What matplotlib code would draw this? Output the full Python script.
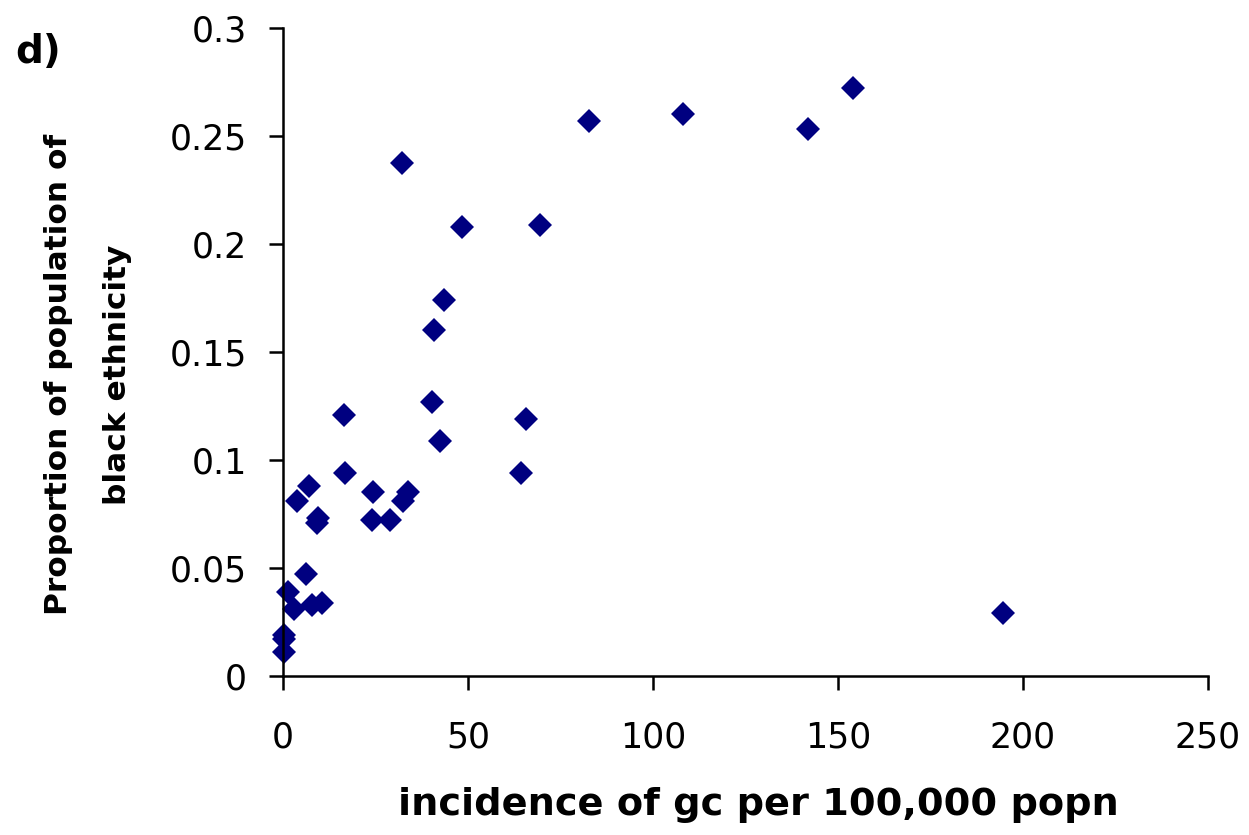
import matplotlib
matplotlib.use("Agg")
import matplotlib.pyplot as plt

# incidence of gc per 100,000 population vs proportion of black ethnicity
incidence = [0.3, 0.3, 0.2, 1.4, 6.2, 3.0, 7.8, 10.5, 3.8, 7.0, 9.2, 9.5,
             16.8, 24.3, 24.0, 16.5, 28.9, 32.4, 33.8, 32.2, 40.3, 40.8,
             42.4, 43.5, 48.4, 64.3, 65.7, 69.5, 82.7, 108.1, 141.9, 154.0,
             194.6]
prop_black = [0.019, 0.011, 0.017, 0.039, 0.047, 0.031, 0.033, 0.034, 0.081,
              0.088, 0.071, 0.073, 0.094, 0.085, 0.072, 0.121, 0.072, 0.081,
              0.085, 0.2375, 0.127, 0.160, 0.109, 0.174, 0.208, 0.094, 0.119,
              0.209, 0.257, 0.260, 0.253, 0.272, 0.029]

xticks = [0, 50, 100, 150, 200, 250]
yticks = [0, 0.05, 0.1, 0.15, 0.2, 0.25, 0.3]
ytick_labels = ["0", "0.05", "0.1", "0.15", "0.2", "0.25", "0.3"]

plt.rcParams['font.family'] = ['DejaVu Sans']

fig = plt.figure(figsize=(12.49, 8.35), dpi=100)
ax = fig.add_axes([0.2266, 0.1904, 0.967 - 0.2266, 0.9665 - 0.1904])

ax.plot(incidence, prop_black, linestyle='none', marker='D', markersize=12,
        color='#000080', markeredgewidth=0, clip_on=False)

ax.set_xlim(0, 250)
ax.set_ylim(0, 0.3)
ax.set_xticks(xticks)
ax.set_xticklabels([str(t) for t in xticks])
ax.set_yticks(yticks)
ax.set_yticklabels(ytick_labels)

for side in ['top', 'right']:
    ax.spines[side].set_visible(False)
for side in ['left', 'bottom']:
    ax.spines[side].set_linewidth(1.8)
    ax.spines[side].set_color('black')

ax.tick_params(axis='both', direction='out', length=10, width=1.8,
               labelsize=25)
ax.tick_params(axis='x', pad=22)
ax.tick_params(axis='y', pad=16)

ax.set_xlabel("incidence of gc per 100,000 popn", fontsize=27.5,
              fontweight='bold')
ax.xaxis.set_label_coords(0.5135, -0.172)
ax.set_ylabel("Proportion of population of\nblack ethnicity", fontsize=22.5,
              fontweight='bold', linespacing=2.3)
ax.yaxis.set_label_coords(-0.163, 0.465)

fig.text(0.012, 0.938, "d)", fontsize=28, fontweight='bold',
         ha='left', va='center')

fig.savefig("out.png", dpi=100)
